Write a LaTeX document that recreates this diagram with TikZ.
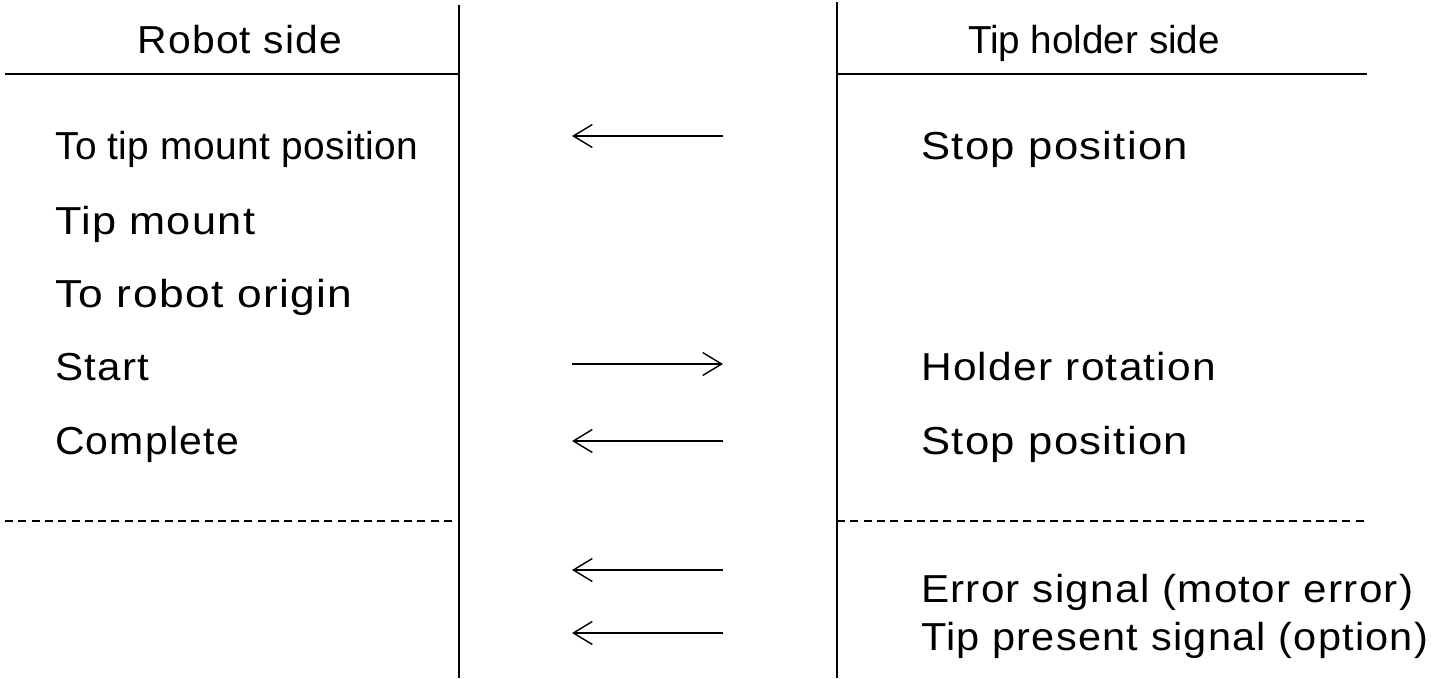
\documentclass[tikz,border=0pt]{standalone}
\usepackage{fontspec}
\setmainfont{Liberation Sans}
\usetikzlibrary{arrows.meta}
% letter-spaced text brought to a given width, height kept
\newcommand{\wtext}[3][3]{\resizebox{#2pt}{\height}{\addfontfeature{LetterSpace=#1}#3}}
\begin{document}
\begin{tikzpicture}[x=1pt,y=-1pt,
  rule/.style={line width=1.6pt},
  dashrule/.style={line width=1.6pt, dash pattern=on 8pt off 5.3pt},
  signal/.style={line width=1.4pt, -{Straight Barb[length=19pt,width=23pt]}},
  lbl/.style={inner sep=0pt, anchor=base west, font=\fontsize{39}{41}\selectfont},
  head/.style={inner sep=0pt, anchor=base, font=\fontsize{39}{41}\selectfont}]
\useasboundingbox (0,0) rectangle (1432,678);

% column separators
\coordinate (lt) at (459,5);   \coordinate (lb) at (459,678);
\coordinate (rt) at (837,2);   \coordinate (rb) at (837,678);
\draw[rule] (lt) -- (lb);
\draw[rule] (rt) -- (rb);

% header rules
\coordinate (hl1) at (5,74);   \coordinate (hl2) at (459,74);
\coordinate (hr1) at (837,74); \coordinate (hr2) at (1367,74);
\draw[rule] (hl1) -- (hl2);
\draw[rule] (hr1) -- (hr2);

% dashed separators
\coordinate (dl1) at (5,521);   \coordinate (dl2) at (455,521);
\coordinate (dr1) at (837,521); \coordinate (dr2) at (1365,521);
\draw[dashrule] (dl1) -- (dl2);
\draw[dashrule] (dr1) -- (dr2);

% headers
\node[head] (hrobot) at (240,53) {\wtext{205}{Robot side}};
\node[head] (hholder) at (1094,53) {\wtext[0]{252}{Tip holder side}};

% robot side
\node[lbl] (r1) at (55,159) {\wtext[1]{363}{To tip mount position}};
\node[lbl] (r2) at (55,234) {\wtext{200}{Tip mount}};
\node[lbl] (r3) at (55,307) {\wtext{297}{To robot origin}};
\node[lbl] (r4) at (55,380) {\wtext{94}{Start}};
\node[lbl] (r5) at (55,454) {\wtext{184}{Complete}};

% tip holder side
\node[lbl] (t1) at (921,159) {\wtext{267}{Stop position}};
\node[lbl] (t4) at (921,380) {\wtext{295}{Holder rotation}};
\node[lbl] (t5) at (921,454) {\wtext{267}{Stop position}};
\node[lbl] (t6) at (921,602) {\wtext{492}{Error signal (motor error)}};
\node[lbl] (t7) at (921,650) {\wtext{507}{Tip present signal (option)}};

% signal arrows
\coordinate (a1l) at (572,136); \coordinate (a1r) at (723,136);
\coordinate (a4l) at (572,364); \coordinate (a4r) at (723,364);
\coordinate (a5l) at (572,441); \coordinate (a5r) at (723,441);
\coordinate (a6l) at (572,570); \coordinate (a6r) at (723,570);
\coordinate (a7l) at (572,633); \coordinate (a7r) at (723,633);
\draw[signal] (a1r) -- (a1l);
\draw[signal] (a4l) -- (a4r);
\draw[signal] (a5r) -- (a5l);
\draw[signal] (a6r) -- (a6l);
\draw[signal] (a7r) -- (a7l);
\end{tikzpicture}
\end{document}
